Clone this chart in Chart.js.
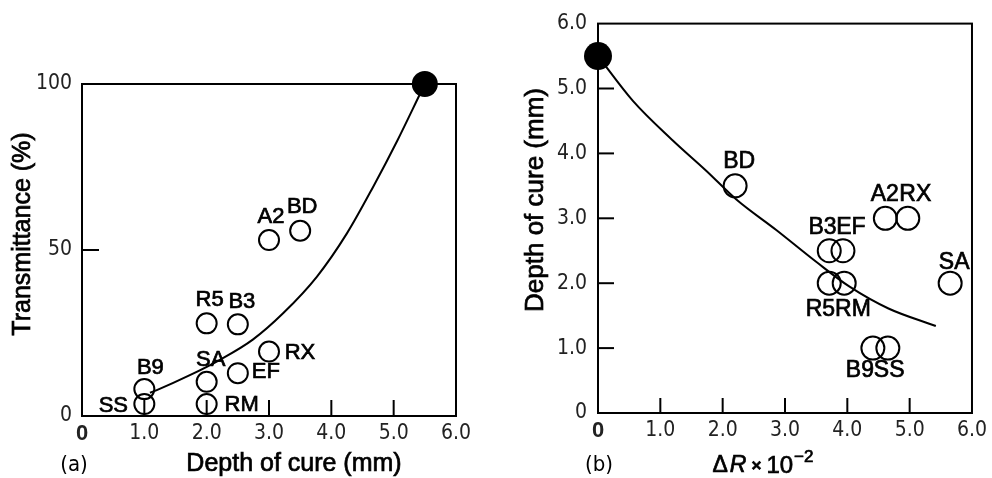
<!DOCTYPE html>
<html>
<head>
<meta charset="utf-8">
<script src="https://cdn.jsdelivr.net/npm/chart.js@4.4.1/dist/chart.umd.min.js"></script>
<style>
  html, body { margin: 0; padding: 0; background: #fff; }
  #wrap { position: relative; width: 992px; height: 478px; }
  canvas { position: absolute; top: 0; }
  #chartA { left: 0; }
  #chartB { left: 496px; }
</style>
</head>
<body>
<div id="wrap">
  <canvas id="chartA" width="496" height="478"></canvas>
  <canvas id="chartB" width="496" height="478"></canvas>
</div>
<script>
// (a) transmittance against depth of cure
var namesA = ['SS', 'B9', 'SA', 'RM', 'R5', 'B3', 'EF', 'RX', 'A2', 'BD'];
var depthA = [1.0, 1.0, 2.0, 2.0, 2.0, 2.5, 2.5, 3.0, 3.0, 3.5];
var transA = [3.6, 8.1, 10.3, 3.6, 27.9, 27.6, 12.9, 19.4, 53, 55.8];
var refDepthA = [5.5];
var refTransA = [100];
var curveDepthA = [1.09, 1.2, 1.73, 2.22, 2.74, 3.23, 3.77, 4.25, 4.67, 5.06, 5.43, 5.5];
var curveTransA = [7, 7.8, 12.3, 17, 23, 31, 42, 55, 69, 83, 97.3, 100];

// (b) depth of cure against delta R
var namesB = ['BD', 'A2', 'RX', 'B3', 'EF', 'R5', 'RM', 'SA', 'B9', 'SS'];
var deltaRB = [2.2, 4.61, 4.97, 3.71, 3.93, 3.71, 3.95, 5.65, 4.41, 4.65];
var depthB = [3.5, 3.0, 3.0, 2.5, 2.5, 2.0, 2.0, 2.0, 1.0, 1.0];
var refDeltaB = [0];
var refDepthB = [5.5];
var curveDeltaB = [0, 0.56, 1.2, 1.74, 2.22, 2.86, 3.5, 4.03, 4.66, 5.42];
var curveDepthB = [5.5, 4.81, 4.2, 3.73, 3.29, 2.82, 2.33, 1.95, 1.61, 1.34];

// label placement (offset from the point, px)
var labelDxA = [-31, 6, 4, 35, 3, 4, 28, 31, 2, 2];
var labelDyA = [1.5, -21.5, -22, 1, -23, -22, -1, 1, -23, -24];
var labelDxB = [4, -0.5, 7.5, -6.7, 8, -8.9, 8.7, 4, -13, 1.3];
var labelDyB = [-24, -24, -24, -23, -23, 26, 26, -21, 23, 23];

var SANS = '"Liberation Sans", Arial, Helvetica, sans-serif';
var NARROW = '"Liberation Sans Narrow", "DejaVu Sans Condensed", "Liberation Sans", sans-serif';

function pairs(xs, ys) {
  return xs.map(function (x, i) { return {x: x, y: ys[i]}; });
}

// fill + thin stroke, the scan's lettering is heavier than a plain regular face
function heavyText(ctx, text, x, y) {
  ctx.fillText(text, x, y);
  ctx.strokeText(text, x, y);
}

var paper = {
  id: 'paper',
  beforeDatasetsDraw: function (chart, args, opts) {
    var ctx = chart.ctx, a = chart.chartArea;
    ctx.save();
    ctx.strokeStyle = '#000';
    ctx.lineWidth = 2;
    ctx.strokeRect(a.left, a.top, a.right - a.left, a.bottom - a.top);
    ['x', 'y'].forEach(function (id) {
      var s = chart.scales[id];
      var len = opts.tickLen[id];
      s.ticks.forEach(function (t) {
        if (t.value <= s.min || t.value >= s.max) return;
        var p = s.getPixelForValue(t.value);
        ctx.beginPath();
        if (id === 'x') {
          ctx.moveTo(p, a.bottom);
          ctx.lineTo(p, a.bottom - len);
        } else {
          ctx.moveTo(a.left, p);
          ctx.lineTo(a.left + len, p);
        }
        ctx.stroke();
      });
    });
    ctx.restore();
  },
  afterDraw: function (chart, args, opts) {
    var ctx = chart.ctx;
    var meta = chart.getDatasetMeta(0);
    ctx.save();
    ctx.fillStyle = '#000';
    ctx.strokeStyle = '#000';
    ctx.lineWidth = 0.7;
    ctx.textAlign = 'center';
    ctx.textBaseline = 'middle';
    ctx.font = opts.labelSize + 'px ' + SANS;
    meta.data.forEach(function (el, i) {
      heavyText(ctx, opts.names[i], el.x + opts.dx[i], el.y + opts.dy[i]);
    });

    opts.texts.forEach(function (t) {
      ctx.save();
      ctx.translate(t.x, t.y);
      if (t.rot) ctx.rotate(t.rot);
      if (t.parts) {
        ctx.textAlign = 'left';
        var w = 0;
        t.parts.forEach(function (p) { ctx.font = p.font; w += ctx.measureText(p.text).width + (p.gap || 0); });
        var x = -w / 2;
        t.parts.forEach(function (p) {
          ctx.font = p.font;
          heavyText(ctx, p.text, x, p.dy || 0);
          x += ctx.measureText(p.text).width + (p.gap || 0);
        });
      } else {
        ctx.textAlign = 'center';
        ctx.font = t.font;
        if (t.light) ctx.fillText(t.text, 0, 0);
        else heavyText(ctx, t.text, 0, 0);
      }
      ctx.restore();
    });
    ctx.restore();
  }
};

function tickFont(ctx) {
  if (ctx.scale.axis === 'x' && ctx.tick && ctx.tick.value === 0) {
    return {family: SANS, size: 22, weight: 'bold'};
  }
  return {family: NARROW, size: 21};
}

function makeChart(el, cfg) {
  var sets = [
    {
      data: cfg.points,
      pointRadius: cfg.radius,
      pointBorderWidth: 2,
      pointBorderColor: '#000',
      pointBackgroundColor: 'rgba(0,0,0,0)',
      showLine: false,
      clip: false
    },
    {
      data: cfg.ref,
      pointRadius: cfg.refRadius,
      pointBorderWidth: 0,
      pointBackgroundColor: '#000',
      showLine: false,
      clip: false
    },
    {
      data: cfg.curve,
      pointRadius: 0,
      borderColor: '#000',
      borderWidth: 2,
      showLine: true,
      cubicInterpolationMode: 'monotone',
      clip: false
    }
  ];

  return new Chart(el, {
    type: 'scatter',
    data: {datasets: sets},
    options: {
      responsive: false,
      animation: false,
      events: [],
      devicePixelRatio: 1,
      layout: {padding: cfg.padding},
      plugins: {
        legend: {display: false},
        tooltip: {enabled: false},
        paper: {
          names: cfg.names,
          dx: cfg.dx,
          dy: cfg.dy,
          labelSize: cfg.labelSize,
          tickLen: cfg.tickLen,
          texts: cfg.texts
        }
      },
      scales: {
        x: {
          type: 'linear',
          min: 0, max: 6,
          grid: {display: false, drawTicks: false},
          border: {display: false},
          ticks: {
            stepSize: 1,
            autoSkip: false,
            maxRotation: 0,
            padding: 5,
            color: '#222',
            font: tickFont,
            callback: function (v) { return v === 0 ? '0' : v.toFixed(1); }
          },
          afterFit: function (s) { s.height = cfg.xHeight; }
        },
        y: {
          type: 'linear',
          min: cfg.yMin, max: cfg.yMax,
          grid: {display: false, drawTicks: false},
          border: {display: false},
          ticks: {
            stepSize: cfg.yStep,
            autoSkip: false,
            padding: cfg.yPad,
            color: '#222',
            font: tickFont,
            callback: cfg.yFormat
          },
          afterFit: function (s) { s.width = cfg.yWidth; }
        }
      }
    },
    plugins: [paper]
  });
}

makeChart(document.getElementById('chartA'), {
  points: pairs(depthA, transA),
  ref: pairs(refDepthA, refTransA),
  curve: pairs(curveDepthA, curveTransA),
  names: namesA, dx: labelDxA, dy: labelDyA, labelSize: 22,
  radius: 10, refRadius: 13,
  yMin: 0, yMax: 100, yStep: 50, yPad: 10,
  yFormat: function (v) { return String(v); },
  yWidth: 82, xHeight: 62,
  padding: {top: 84, right: 40, left: 0, bottom: 0},
  tickLen: {x: 16, y: 17},
  texts: [
    {text: 'Transmittance (%)', x: 23, y: 234, rot: -Math.PI / 2, font: '25px ' + SANS},
    {text: 'Depth of cure (mm)', x: 294, y: 464, font: '25px ' + SANS},
    {text: '(a)', x: 74, y: 465, font: '22px ' + NARROW, light: true}
  ]
});

makeChart(document.getElementById('chartB'), {
  points: pairs(deltaRB, depthB),
  ref: pairs(refDeltaB, refDepthB),
  curve: pairs(curveDeltaB, curveDepthB),
  names: namesB, dx: labelDxB, dy: labelDyB, labelSize: 23,
  radius: 11.5, refRadius: 14,
  yMin: 0, yMax: 6, yStep: 1, yPad: 11,
  yFormat: function (v) { return v === 0 ? '0' : v.toFixed(1); },
  yWidth: 102, xHeight: 65,
  padding: {top: 19, right: 18, left: 0, bottom: 0},
  tickLen: {x: 15, y: 16},
  texts: [
    {text: 'Depth of cure (mm)', x: 40, y: 200, rot: -Math.PI / 2, font: '26px ' + SANS},
    {text: '(b)', x: 103, y: 465, font: '22px ' + NARROW, light: true},
    {x: 267, y: 466, parts: [
      {text: '\u0394', font: '23px ' + SANS, gap: 2},
      {text: 'R', font: 'italic 23px ' + SANS, gap: 5},
      {text: '\u00d7', font: 'bold 17px ' + SANS, gap: 5},
      {text: '10', font: '24px ' + SANS, gap: 1},
      {text: '\u22122', font: '17px ' + SANS, dy: -9}
    ]}
  ]
});
</script>
</body>
</html>
